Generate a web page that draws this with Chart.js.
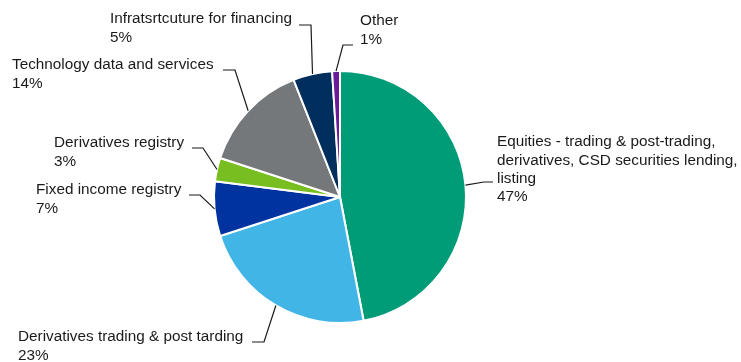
<!DOCTYPE html>
<html>
<head>
<meta charset="utf-8">
<script src="https://cdn.jsdelivr.net/npm/chart.js@4"></script>
<style>
html,body{margin:0;padding:0;background:#fff;}
canvas{display:block;}
</style>
</head>
<body>
<canvas id="c" width="741" height="362"></canvas>
<script>
// ---- data ----
const categories = [
  ["Equities - trading & post-trading,", "derivatives, CSD securities lending,", "listing"],
  ["Derivatives trading & post tarding"],
  ["Fixed income registry"],
  ["Derivatives registry"],
  ["Technology data and services"],
  ["Infratsrtcuture for financing"],
  ["Other"]
];
const shares = [47, 23, 7, 3, 14, 5, 1];
const colors = ["#009B77", "#41B6E6", "#0033A0", "#78BE20", "#75787B", "#002E5D", "#6A1B9A"];

// ---- label layout (text anchor, elbow point, horizontal end) ----
const labelLayout = [
  {tx: 497, ty: 142, elbow: [484, 182], end: [493, 182]},
  {tx: 18,  ty: 337, elbow: [264, 342], end: [252, 342]},
  {tx: 36,  ty: 190, elbow: [200, 195], end: [189, 195]},
  {tx: 54,  ty: 143, elbow: [203, 148], end: [192, 148]},
  {tx: 12,  ty: 65,  elbow: [235, 70],  end: [223, 70]},
  {tx: 110, ty: 19,  elbow: [311, 25],  end: [299, 25]},
  {tx: 360, ty: 21,  elbow: [343, 45],  end: [353, 45]}
];

const labelPlugin = {
  id: 'pieLabels',
  afterDatasetsDraw(chart) {
    const ctx = chart.ctx;
    const meta = chart.getDatasetMeta(0);
    ctx.save();
    ctx.font = '15.3px "Liberation Sans", Arial, sans-serif';
    ctx.textBaseline = 'middle';
    ctx.textAlign = 'left';
    meta.data.forEach((arc, i) => {
      const L = labelLayout[i];
      const p = arc.getProps(['x','y','startAngle','endAngle','outerRadius'], true);
      const mid = (p.startAngle + p.endAngle) / 2;
      const ax = p.x + Math.cos(mid) * p.outerRadius;
      const ay = p.y + Math.sin(mid) * p.outerRadius;
      ctx.strokeStyle = '#1a1a1a';
      ctx.lineWidth = 1.2;
      ctx.beginPath();
      ctx.moveTo(ax, ay);
      ctx.lineTo(L.elbow[0], L.elbow[1]);
      ctx.lineTo(L.end[0], L.end[1]);
      ctx.stroke();
      ctx.fillStyle = '#1a1a1a';
      const lines = categories[i].concat([shares[i] + '%']);
      lines.forEach((t, k) => ctx.fillText(t, L.tx, L.ty + k * 18.3));
    });
    ctx.restore();
  }
};

new Chart(document.getElementById('c'), {
  type: 'pie',
  data: {
    labels: categories.map(c => c.join(' ')),
    datasets: [{
      data: shares,
      backgroundColor: colors,
      borderColor: '#ffffff',
      borderWidth: 2
    }]
  },
  options: {
    responsive: false,
    animation: false,
    layout: {padding: {left: 213, right: 274, top: 70, bottom: 38}},
    plugins: {legend: {display: false}, tooltip: {enabled: false}}
  },
  plugins: [labelPlugin]
});
</script>
</body>
</html>
